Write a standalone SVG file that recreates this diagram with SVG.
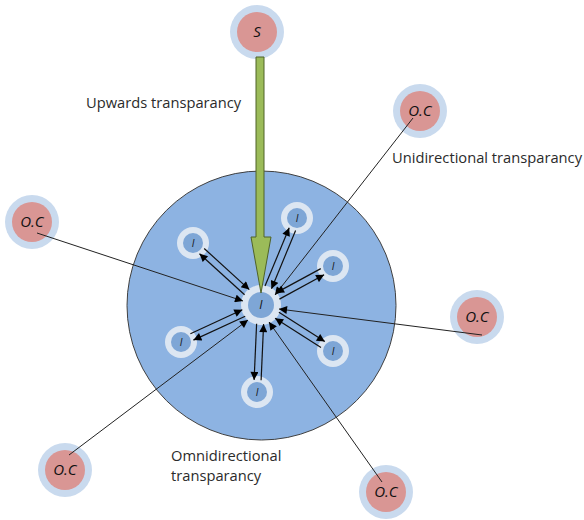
<svg xmlns="http://www.w3.org/2000/svg" width="584" height="520" viewBox="0 0 584 520">
<defs>
<style>
.dom{fill:#8DB3E2;stroke:#404040;stroke-width:1}
.ring{fill:#DCE6F2}
.inI{fill:#7EA6D6}
.ocring{fill:#C9DAEE}
.ocin{fill:#D99694}
.il{font-family:"Open Sans","Liberation Sans",sans-serif;font-style:italic;font-size:10px;fill:#111;text-anchor:middle}
.oc{font-family:"Open Sans","Liberation Sans",sans-serif;font-style:italic;font-size:15px;fill:#111;text-anchor:middle}
.lbl{font-family:"Open Sans","Liberation Sans",sans-serif;font-size:14.7px;fill:#2b2b2b}
.ln{stroke:#111;stroke-width:1.2;fill:none;marker-end:url(#ah)}
.oln{stroke:#222;stroke-width:1;fill:none;marker-end:url(#ah)}
</style>
<marker id="ah" viewBox="0 0 10 10" refX="10" refY="5" markerWidth="10" markerHeight="8" markerUnits="userSpaceOnUse" orient="auto">
<path d="M0,0 L10,5 L0,10 Z" fill="#000"/>
</marker>
</defs>
<rect width="584" height="520" fill="#fff"/>
<g id="domain"><circle class="dom" cx="261.5" cy="305.5" r="134.5"/></g>
<g id="center"><circle class="ring" cx="261" cy="305" r="20"/><circle class="inI" cx="261" cy="305" r="13"/><text class="il" x="261" y="309" style="font-size:12px">I</text></g>
<g id="i1"><circle class="ring" cx="193" cy="243" r="16"/><circle class="inI" cx="193" cy="243" r="10"/><text class="il" x="193" y="246.5">I</text></g>
<g id="i2"><circle class="ring" cx="297" cy="218" r="16"/><circle class="inI" cx="297" cy="218" r="10"/><text class="il" x="297" y="221.5">I</text></g>
<g id="i3"><circle class="ring" cx="333" cy="266" r="16"/><circle class="inI" cx="333" cy="266" r="10"/><text class="il" x="333" y="269.5">I</text></g>
<g id="i4"><circle class="ring" cx="181" cy="342" r="16"/><circle class="inI" cx="181" cy="342" r="10"/><text class="il" x="181" y="345.5">I</text></g>
<g id="i5"><circle class="ring" cx="333" cy="351" r="16"/><circle class="inI" cx="333" cy="351" r="10"/><text class="il" x="333" y="354.5">I</text></g>
<g id="i6"><circle class="ring" cx="257" cy="392" r="16"/><circle class="inI" cx="257" cy="392" r="10"/><text class="il" x="257" y="395.5">I</text></g>
<g id="s"><circle class="ocring" cx="257" cy="32" r="27"/><circle class="ocin" cx="257" cy="32" r="20"/><text class="oc" x="257" y="37">S</text></g>
<g id="oc1"><circle class="ocring" cx="420" cy="111" r="27"/><circle class="ocin" cx="420" cy="111" r="20"/><text class="oc" x="420" y="116">O.C</text></g>
<g id="oc2"><circle class="ocring" cx="32" cy="222" r="27"/><circle class="ocin" cx="32" cy="222" r="20"/><text class="oc" x="32" y="227">O.C</text></g>
<g id="oc3"><circle class="ocring" cx="477" cy="317" r="27"/><circle class="ocin" cx="477" cy="317" r="20"/><text class="oc" x="477" y="322">O.C</text></g>
<g id="oc4"><circle class="ocring" cx="65" cy="470" r="27"/><circle class="ocin" cx="65" cy="470" r="20"/><text class="oc" x="65" y="475">O.C</text></g>
<g id="oc5"><circle class="ocring" cx="386" cy="492" r="27"/><circle class="ocin" cx="386" cy="492" r="20"/><text class="oc" x="386" y="497">O.C</text></g>
<g id="connectors">
<line class="oln" x1="413" y1="118" x2="275" y2="295"/>
<line class="oln" x1="37" y1="233" x2="243" y2="301"/>
<line class="oln" x1="482" y1="335" x2="279" y2="309"/>
<line class="oln" x1="69" y1="455" x2="248" y2="320"/>
<line class="oln" x1="382" y1="482" x2="269" y2="322"/>
<line class="ln" x1="244.6" y1="294.8" x2="199.5" y2="253.7"/>
<line class="ln" x1="204.2" y1="248.5" x2="249.3" y2="289.6"/>
<line class="ln" x1="265" y1="286.1" x2="289.2" y2="227.8"/>
<line class="ln" x1="295.6" y1="230.4" x2="271.5" y2="288.8"/>
<line class="ln" x1="279.4" y1="299.1" x2="324.1" y2="274.8"/>
<line class="ln" x1="320.8" y1="268.6" x2="276" y2="292.9"/>
<line class="ln" x1="245.2" y1="316.2" x2="193.4" y2="340.1"/>
<line class="ln" x1="190.4" y1="333.8" x2="242.3" y2="309.8"/>
<line class="ln" x1="278.9" y1="312.3" x2="324.8" y2="341.6"/>
<line class="ln" x1="321" y1="347.5" x2="275.1" y2="318.2"/>
<line class="ln" x1="256.6" y1="323.8" x2="254.1" y2="379.9"/>
<line class="ln" x1="261.1" y1="380.2" x2="263.6" y2="324.1"/>
<polygon points="256,57 264,57 264,237 271,237 261,293 251,237 256,237" fill="#9BBB59" stroke="#4F6228" stroke-width="1"/>
</g>
<g id="labels">
<text class="lbl" x="86" y="108">Upwards transparancy</text>
<text class="lbl" x="392" y="163">Unidirectional transparancy</text>
<text class="lbl" x="171" y="461">Omnidirectional</text>
<text class="lbl" x="171" y="481">transparancy</text>
</g>
</svg>
